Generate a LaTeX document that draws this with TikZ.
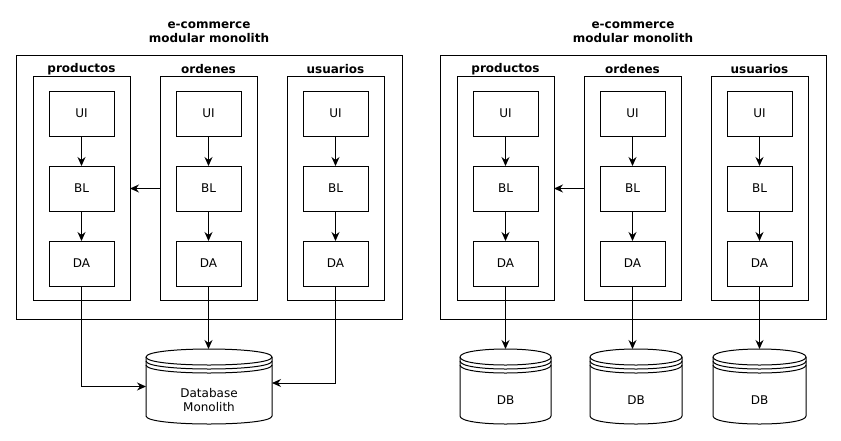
\documentclass[tikz,border=0pt]{standalone}
\usepackage{fontspec}
\setmainfont{DejaVu Sans}
\usetikzlibrary{arrows.meta,calc}
\newcommand\dbshape[3]{%
  \begin{scope}[shift={(#1.north west)}]
    \draw (0,8) .. controls (0,-2.67) and (#2,-2.67) .. (#2,8) -- (#2,#3-8)
      .. controls (#2,#3+2.67) and (0,#3+2.67) .. (0,#3-8) -- cycle;
    \draw (0,8) .. controls (0,18.67) and (#2,18.67) .. (#2,8);
    \draw (0,12) .. controls (0,22.67) and (#2,22.67) .. (#2,12);
    \draw (0,16) .. controls (0,26.67) and (#2,26.67) .. (#2,16);
  \end{scope}}
\begin{document}
\begin{tikzpicture}[x=1pt,y=-1pt,line width=1pt,
  every node/.style={font=\fontsize{12}{14}\selectfont, inner sep=0pt, outer sep=0pt},
  box/.style={draw, minimum width=65pt, minimum height=45pt},
  modbox/.style={draw, minimum width=97pt, minimum height=224pt},
  frame/.style={draw, minimum width=386pt, minimum height=264pt},
  ttl/.style={font=\fontsize{12}{14}\selectfont\bfseries, align=center},
  dblbl/.style={align=center},
  dbbody/.style={minimum height=75pt},
  arr/.style={-{Stealth[length=9pt,width=8pt,inset=3pt]}}]
\useasboundingbox (0,0) rectangle (841,440);

\foreach \side/\ox in {L/0,R/424}{
  \begin{scope}[shift={(\ox,0)}, name prefix=\side-]
    \node[frame] (frame) at (209,187) {};
    \node[ttl] (title) at (209,32) {e-commerce\\modular monolith};
    \foreach \m/\cx/\nm in {p/81.5/productos, o/208.5/ordenes, u/335.5/usuarios}{
      \node[modbox] (\m) at (\cx,188) {};
      \node[ttl] (\m lbl) at (\cx,69) {\nm};
      \node[box] (\m UI) at (\cx,113.5) {UI};
      \node[box] (\m BL) at (\cx,188.5) {BL};
      \node[box] (\m DA) at (\cx,263.5) {DA};
      \draw[arr] (\m UI) -- (\m BL);
      \draw[arr] (\m BL) -- (\m DA);
    }
    \draw[arr] (o.west |- oBL) -- (p.east |- oBL);
  \end{scope}
}

% left: shared database
\node[dbbody, minimum width=126pt] (db) at (209,386.5) {};
\dbshape{db}{126}{75}
\node[dblbl] (dbt) at ($(db)+(0,14)$) {Database\\Monolith};
\draw[arr] (L-pDA.south) |- (db.west);
\draw[arr] (L-oDA.south) -- (L-oDA.south |- db.north);
\draw[arr] (L-uDA.south) |- ([yshift=3.5pt]db.east);

% right: one database per module
\node[dbbody, minimum width=91pt] (db1) at (505.5,386.5) {};
\node[dbbody, minimum width=92pt] (db2) at (636,386.5) {};
\node[dbbody, minimum width=93pt] (db3) at (759.5,386.5) {};
\dbshape{db1}{91}{75}
\dbshape{db2}{92}{75}
\dbshape{db3}{93}{75}
\node (db1t) at ($(db1)+(0,14)$) {DB};
\node (db2t) at ($(db2)+(0,14)$) {DB};
\node (db3t) at ($(db3)+(0,14)$) {DB};
\draw[arr] (R-pDA.south) -- (R-pDA.south |- db1.north);
\draw[arr] (R-oDA.south) -- (R-oDA.south |- db2.north);
\draw[arr] (R-uDA.south) -- (R-uDA.south |- db3.north);
\end{tikzpicture}
\end{document}
